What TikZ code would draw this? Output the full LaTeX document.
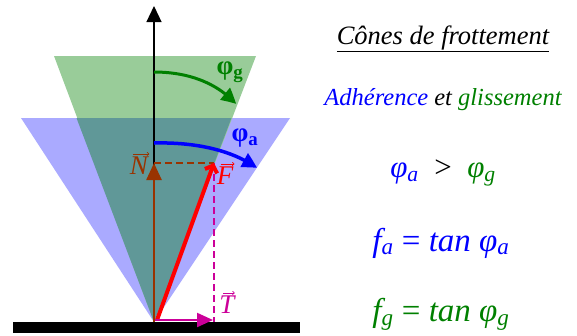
\documentclass[tikz,border=0pt]{standalone}
\usepackage{fontspec}
\setmainfont{Liberation Serif}
\usetikzlibrary{arrows.meta,bending}
\definecolor{cgreen}{RGB}{153,204,153}
\definecolor{cblue}{RGB}{170,170,255}
\definecolor{cteal}{RGB}{96,152,152}
\definecolor{dgreen}{RGB}{0,128,0}
\definecolor{brownN}{RGB}{153,51,0}
\definecolor{magT}{RGB}{204,0,153}
\definecolor{bl}{RGB}{0,0,255}
\newcommand\fs[1]{\fontsize{#1}{#1}\selectfont}
\tikzset{
  lbl/.style={inner sep=0pt},
  rtxt/.style={inner sep=0pt, anchor=center},
  bigtip/.style={-{Triangle[length=16,width=15]}},
  vecover/.style={line width=0.7, -{To[length=2.5pt,width=4pt]}},
}
\begin{document}
\begin{tikzpicture}[x=1pt,y=-1pt]
\useasboundingbox (0,0) rectangle (577,335);
\coordinate (O) at (154,322);
\coordinate (Ob) at (21,118);
\coordinate (Oc) at (290,118);
\coordinate (Gb) at (54,56);
\coordinate (Gc) at (256,56);
\coordinate (Tl) at (76.5,118);
\coordinate (Tr) at (231.5,118);
\coordinate (Atop) at (154,6);
\coordinate (Ntip) at (154,163);
\coordinate (Ftip) at (214,163);
\coordinate (Fst) at (157,320);
\coordinate (Tst) at (155,320);
\coordinate (Ttip) at (213,320);
\coordinate (Tbot) at (214,322);
\coordinate (Gs) at (154,72);
\coordinate (Ge) at (236,104);
\coordinate (Bs) at (154,143);
\coordinate (Be) at (257,168);
% cones
\fill[cblue] (O) -- (Ob) -- (Oc) -- cycle;
\fill[cgreen] (O) -- (Gb) -- (Gc) -- cycle;
\fill[cteal] (O) -- (Tl) -- (Tr) -- cycle;
% ground
\fill[black] (13,322) rectangle (300,333);
% axis
\draw[line width=1.2, bigtip] (O) -- (Atop);
% arcs
\draw[dgreen, line width=3, -{Triangle[length=15,width=15,bend]}] (Gs) .. controls (190,72) and (218,84) .. (Ge);
\draw[bl, line width=3.5, -{Triangle[length=15,width=15,bend]}] (Bs) .. controls (195,142) and (232,150) .. (Be);
% dashed projections
\draw[brownN, line width=1.3, dash pattern=on 7pt off 4pt] (Ntip) -- (Ftip);
\draw[magT, line width=1.3, dash pattern=on 7pt off 4pt] (Ftip) -- (Tbot);
% vectors
\draw[brownN, line width=2.5, -{Triangle[length=17,width=15]}] (O) -- (Ntip);
\draw[red, line width=4, -{Straight Barb[length=6,width=13,line width=4]}] (Fst) -- (Ftip);
\draw[magT, line width=2.2, -{Triangle[length=16,width=14]}] (Tst) -- (Ttip);
% labels
\node[lbl, brownN, font=\itshape\fs{27}] (lN) at (139,166) {N};
\node[lbl, red, font=\itshape\fs{27}] (lF) at (225,176) {F};
\node[lbl, magT, font=\itshape\fs{27}] (lT) at (227,305) {T};
\draw[vecover, brownN] ([shift={(3,-3)}]lN.north west) -- ([shift={(1,-3)}]lN.north east);
\draw[vecover, red] ([shift={(4,-3)}]lF.north west) -- ([shift={(1,-3)}]lF.north east);
\draw[vecover, magT] ([shift={(4,-3)}]lT.north west) -- ([shift={(0,-3)}]lT.north east);
\node[lbl, dgreen, font=\bfseries\fs{27}] (lg) at (230,72) {φ\textsubscript{g}};
\node[lbl, bl, font=\bfseries\fs{27}] (la) at (245,138) {φ\textsubscript{a}};
% right texts
\node[rtxt, font=\itshape\fs{26.5}] (title) at (443,39) {\underline{Cônes de frottement}};
\node[rtxt, font=\itshape\fs{24.5}] (adh) at (443,100) {\textcolor{bl}{Adhérence} et \textcolor{dgreen}{glissement}};
\node[rtxt, font=\itshape\fs{31}] (cmp) at (443,173) {\textcolor{bl}{φ\textsubscript{a}}\ \ \upshape >\ \ \itshape\textcolor{dgreen}{φ\textsubscript{g}}};
\node[rtxt, bl, font=\itshape\fs{33}] (fa) at (441,243) {f\textsubscript{a} {\upshape =} tan φ\textsubscript{a}};
\node[rtxt, dgreen, font=\itshape\fs{33}] (fg) at (441,314) {f\textsubscript{g} {\upshape =} tan φ\textsubscript{g}};
\end{tikzpicture}
\end{document}
